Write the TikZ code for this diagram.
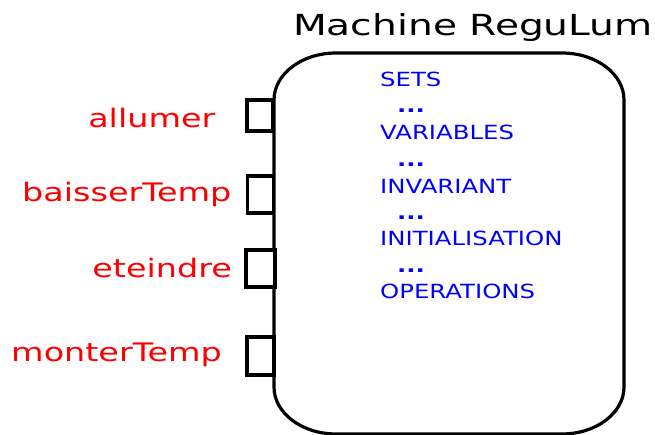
\documentclass[tikz,border=0pt]{standalone}
\usepackage{fontspec}
\setmainfont{DejaVu Sans}
\usepackage{graphicx}
% horizontally widened text
\newcommand{\widetext}[2]{\scalebox{#1}[1]{#2}}

\begin{document}
\begin{tikzpicture}[x=1pt,y=-1pt,
  port/.style={draw=black, line width=3.3pt, inner sep=0pt, fill=white},
  oplabel/.style={anchor=base east, text=red, inner sep=0pt,
    font=\fontsize{25.5}{30}\selectfont},
  clause/.style={anchor=base west, text=blue, inner sep=0pt,
    font=\fontsize{19.5}{24}\selectfont},
  title/.style={anchor=base west, text=black, inner sep=0pt,
    font=\fontsize{29}{34}\selectfont}]
\useasboundingbox (0,0) rectangle (655,435);

% machine body: rectangle with elliptical corners
\draw[line width=3.2pt]
  (274,100) .. controls (274,74) and (301.8,53) .. (336,53)
  -- (562,53) .. controls (596.2,53) and (624,74) .. (624,100)
  -- (624,387) .. controls (624,413) and (596.2,434) .. (562,434)
  -- (336,434) .. controls (301.8,434) and (274,413) .. (274,387) -- cycle;

\node[title] (name) at (293,35.5) {\widetext{1.35}{Machine ReguLum}};

% operation ports on the left side
\node[port, minimum width=26pt, minimum height=31pt] (p1) at (260,115.5) {};
\node[port, minimum width=26pt, minimum height=37pt] (p2) at (260.5,194.5) {};
\node[port, minimum width=29pt, minimum height=37pt] (p3) at (260.5,268.5) {};
\node[port, minimum width=27pt, minimum height=38pt] (p4) at (260.5,356) {};

\node[oplabel] (l1) at (215.5,128) {\widetext{1.31}{allumer}};
\node[oplabel] (l2) at (231.5,202) {\widetext{1.31}{baisserTemp}};
\node[oplabel] (l3) at (232,277) {\widetext{1.31}{eteindre}};
\node[oplabel] (l4) at (222,361) {\widetext{1.31}{monterTemp}};

% machine clauses
\node[clause] (c1) at (380,86.7)  {\widetext{1.25}{SETS}};
\node[clause] (d1) at (397,113)   {\widetext{1.25}{\textbf{...}}};
\node[clause] (c2) at (380,140)   {\widetext{1.25}{VARIABLES}};
\node[clause] (d2) at (397,166.7) {\widetext{1.25}{\textbf{...}}};
\node[clause] (c3) at (380,193.3) {\widetext{1.25}{INVARIANT}};
\node[clause] (d3) at (397,220)   {\widetext{1.25}{\textbf{...}}};
\node[clause] (c4) at (380,246)   {\widetext{1.25}{INITIALISATION}};
\node[clause] (d4) at (397,272.7) {\widetext{1.25}{\textbf{...}}};
\node[clause] (c5) at (380,298.3) {\widetext{1.25}{OPERATIONS}};
\end{tikzpicture}
\end{document}
